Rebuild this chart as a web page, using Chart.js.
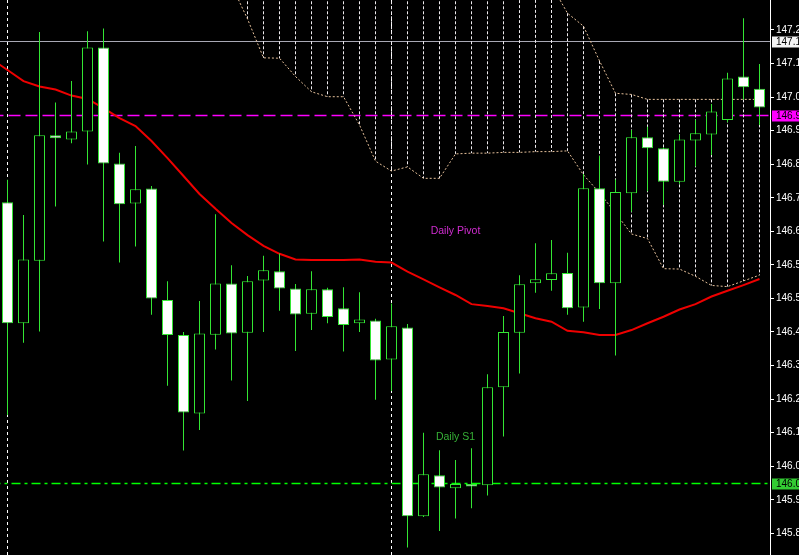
<!DOCTYPE html>
<html>
<head>
<meta charset="utf-8">
<script src="https://cdn.jsdelivr.net/npm/chart.js@4.4.0/dist/chart.umd.min.js"></script>
<style>
html,body{margin:0;padding:0;background:#000;overflow:hidden}
canvas{display:block}
</style>
</head>
<body>
<canvas id="c" width="799" height="555"></canvas>
<script>
// ---- Data (USDJPY H1) ----
const candleIndex = Array.from({length: 48}, (_, i) => i);
const openP  = [146.758,146.441,146.605,146.934,146.923,146.944,147.164,146.860,146.755,146.794,146.502,146.410,146.204,146.411,146.545,146.416,146.553,146.577,146.532,146.466,146.530,146.480,146.441,146.448,146.346,146.430,145.935,146.042,146.008,146.019,146.016,146.273,146.416,146.546,146.554,146.573,146.482,146.795,146.546,146.782,146.929,146.900,146.812,146.920,146.936,146.974,147.088,147.056];
const highP  = [146.817,146.725,147.205,147.020,147.076,147.207,147.214,146.888,146.906,146.801,146.551,146.418,146.499,146.727,146.593,146.565,146.618,146.624,146.544,146.577,146.534,146.535,146.522,146.453,146.493,146.439,146.154,146.108,146.082,146.113,146.307,146.460,146.567,146.651,146.659,146.626,146.832,146.880,146.818,146.948,146.956,146.902,146.935,146.974,147.016,147.098,147.241,147.121];
const lowP   = [146.200,146.390,146.419,146.747,146.913,146.857,146.655,146.600,146.642,146.463,146.277,146.107,146.161,146.372,146.291,146.237,146.418,146.474,146.368,146.423,146.441,146.367,146.418,146.240,146.263,145.853,145.933,145.896,145.929,145.956,145.989,146.144,146.309,146.521,146.526,146.463,146.445,146.478,146.356,146.733,146.787,146.752,146.807,146.852,146.882,146.968,147.028,146.961];
const closeP = [146.441,146.608,146.934,146.926,146.944,147.164,146.860,146.753,146.792,146.506,146.410,146.207,146.414,146.545,146.414,146.551,146.580,146.532,146.464,146.530,146.457,146.436,146.451,146.343,146.433,145.935,146.045,146.010,146.019,146.013,146.273,146.418,146.543,146.556,146.572,146.480,146.795,146.546,146.785,146.929,146.900,146.812,146.923,146.939,146.996,147.083,147.060,147.007];

// moving average, first value belongs to the bar before the first visible one
const maStart = -1;
const maValues = [147.134,147.105,147.076,147.062,147.054,147.038,147.029,147.005,146.979,146.958,146.919,146.874,146.827,146.780,146.741,146.704,146.672,146.644,146.623,146.608,146.607,146.607,146.607,146.608,146.602,146.600,146.576,146.556,146.535,146.515,146.491,146.486,146.480,146.467,146.454,146.445,146.421,146.417,146.410,146.410,146.423,146.441,146.458,146.477,146.491,146.511,146.526,146.541,146.557];

// Ichimoku cloud (spans), starting at bar 14
const cloudStart = 14;
const cloudUpper = [147.60,147.60,147.60,147.60,147.60,147.60,147.60,147.60,147.60,147.60,147.60,147.60,147.60,147.60,147.60,147.60,147.60,147.60,147.485,147.407,147.328,147.254,147.220,147.129,147.044,147.041,147.028,147.028,147.028,147.028,147.028,147.028,147.028,147.028];
const cloudLower = [147.328,147.239,147.137,147.136,147.088,147.048,147.035,147.035,146.961,146.866,146.840,146.851,146.821,146.821,146.885,146.887,146.887,146.889,146.889,146.891,146.891,146.893,146.830,146.783,146.730,146.675,146.663,146.584,146.583,146.564,146.540,146.537,146.552,146.567];

// horizontal levels
const levelGray  = 147.1798;
const levelPivot = 146.9857;
const levelS1    = 146.0206;

// day separators (bar index)
const separatorIdx = [0, 24];

// text labels
const labelText  = ['Daily Pivot', 'Daily S1'];
const labelIndex = [28, 28];
const labelPrice = [146.683, 146.142];
const labelColor = ['#d02cd0', '#36b036'];

// price axis
const yTicks = [147.210,147.122,147.034,146.946,146.858,146.770,146.682,146.594,146.506,146.418,146.330,146.242,146.154,146.066,145.978,145.890];
const yMin = 145.83311, yMax = 147.28865;
const xMin = -0.46875, xMax = 47.65625;

// ---- build datasets ----
const GREEN = '#33e633';
const bodies = candleIndex.map(i => ({x: i, y: [openP[i], closeP[i]]}));
const wicks  = candleIndex.map(i => ({x: i, y: [lowP[i], highP[i]]}));
const bodyFill = candleIndex.map(i => closeP[i] < openP[i] ? '#ffffff' : '#000000');
const maData = maValues.map((v, j) => ({x: maStart + j, y: v}));
const cloudV = [];
cloudUpper.forEach((u, j) => {
  const k = cloudStart + j;
  cloudV.push({x: k, y: u}, {x: k, y: cloudLower[j]}, {x: k, y: null});
});
const upLine = cloudUpper.map((v, j) => ({x: cloudStart + j, y: v}));
const loLine = cloudLower.map((v, j) => ({x: cloudStart + j, y: v}));
const firstX = candleIndex[0] - 1, lastX = candleIndex[candleIndex.length - 1] + 1;
const hline = v => [{x: firstX, y: v}, {x: lastX, y: v}];

const FONT = "'Liberation Sans', Arial, sans-serif";

const overlay = {
  id: 'overlay',
  beforeDraw(chart) {
    const ctx = chart.ctx;
    ctx.save(); ctx.fillStyle = '#000'; ctx.fillRect(0, 0, chart.width, chart.height); ctx.restore();
  },
  beforeDatasetsDraw(chart) {
    const {ctx, chartArea: a, scales: {x}} = chart;
    ctx.save();
    ctx.beginPath(); ctx.rect(a.left, a.top, a.right - a.left, a.bottom - a.top); ctx.clip();
    ctx.strokeStyle = '#ffffff'; ctx.lineWidth = 1; ctx.setLineDash([3, 3]);
    separatorIdx.forEach(k => {
      const px = x.getPixelForValue(k);
      ctx.beginPath(); ctx.moveTo(px, a.top); ctx.lineTo(px, a.bottom); ctx.stroke();
    });
    ctx.restore();
  },
  afterDatasetsDraw(chart) {
    const {ctx, scales: {x, y}} = chart;
    ctx.save();
    ctx.font = '10.5px ' + FONT;
    ctx.textAlign = 'center'; ctx.textBaseline = 'middle';
    labelText.forEach((t, i) => {
      ctx.fillStyle = labelColor[i];
      ctx.fillText(t, x.getPixelForValue(labelIndex[i]), y.getPixelForValue(labelPrice[i]));
    });
    ctx.restore();
  },
  afterDraw(chart) {
    const {ctx, chartArea: a, scales: {y}} = chart;
    const boxes = [[levelGray, '#f4f4f4'], [levelPivot, '#ff00ff'], [levelS1, '#33cc33']];
    ctx.save();
    ctx.font = '10px ' + FONT;
    ctx.textAlign = 'left'; ctx.textBaseline = 'middle';
    boxes.forEach(([v, bg]) => {
      const py = y.getPixelForValue(v);
      ctx.fillStyle = bg;
      ctx.fillRect(a.right + 2, Math.round(py) - 5.5, chart.width - a.right - 2, 11);
      ctx.fillStyle = '#000';
      ctx.fillText(v.toFixed(3), a.right + 6, py + 0.5);
    });
    ctx.restore();
  }
};

new Chart(document.getElementById('c'), {
  type: 'bar',
  data: {
    datasets: [
      {type: 'line', data: hline(levelGray), borderColor: '#a8a8b4', borderWidth: 1, pointRadius: 0, order: 9},
      {type: 'line', data: hline(levelPivot), borderColor: '#ff00ff', borderWidth: 1.3, borderDash: [12, 5], pointRadius: 0, order: 9},
      {type: 'line', data: hline(levelS1), borderColor: '#00ff00', borderWidth: 1.4, borderDash: [9, 4, 3, 4], pointRadius: 0, order: 9},
      {type: 'line', data: cloudV, borderColor: '#eeeaee', borderWidth: 1, borderDash: [3, 2], pointRadius: 0, spanGaps: false, order: 8},
      {type: 'line', data: upLine, borderColor: '#e6c09a', borderWidth: 1, borderDash: [2, 2], pointRadius: 0, tension: 0, order: 7},
      {type: 'line', data: loLine, borderColor: '#e6c09a', borderWidth: 1, borderDash: [2, 2], pointRadius: 0, tension: 0, order: 7},
      {type: 'line', data: maData, borderColor: '#ee0000', borderWidth: 2, pointRadius: 0, tension: 0, order: 5},
      {type: 'bar', data: wicks, backgroundColor: GREEN, borderWidth: 0, grouped: false,
       categoryPercentage: 1, barPercentage: 1 / 16, inflateAmount: 0, order: 2},
      {type: 'bar', data: bodies, backgroundColor: bodyFill, borderColor: GREEN, borderWidth: 1,
       borderSkipped: false, grouped: false, categoryPercentage: 1, barPercentage: 11 / 16, inflateAmount: 0, order: 1}
    ]
  },
  options: {
    responsive: false,
    devicePixelRatio: 1,
    animation: false,
    events: [],
    layout: {padding: 0, autoPadding: false},
    plugins: {legend: {display: false}, tooltip: {enabled: false}, title: {display: false}},
    scales: {
      x: {
        type: 'linear', display: false, min: xMin, max: xMax, offset: false,
        afterBuildTicks: s => { s.ticks = candleIndex.map(v => ({value: v})); }
      },
      y: {
        type: 'linear', position: 'right', min: yMin, max: yMax,
        afterBuildTicks: s => { s.ticks = yTicks.map(v => ({value: v})); },
        afterFit: s => { s.width = 29; s.paddingTop = 0; s.paddingBottom = 0; },
        grid: {drawOnChartArea: false, drawTicks: true, tickLength: 4, color: '#ffffff'},
        border: {display: true, color: '#ffffff', width: 1},
        ticks: {
          color: '#ffffff', padding: 2, autoSkip: false,
          font: {family: FONT, size: 10},
          callback: v => Number(v).toFixed(3)
        }
      }
    }
  },
  plugins: [overlay]
});
</script>
</body>
</html>
